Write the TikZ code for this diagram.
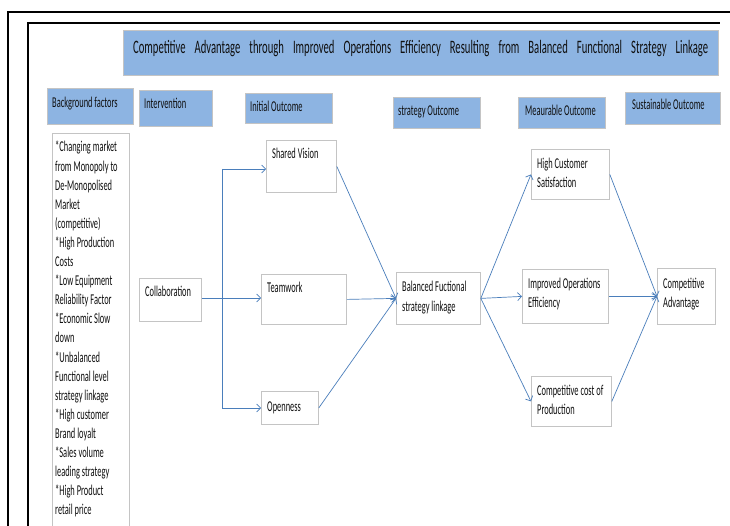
\documentclass[tikz,border=0pt]{standalone}
\usepackage{fontspec}
\setmainfont{Carlito}[FakeStretch=0.56]
\usetikzlibrary{arrows.meta}
\definecolor{hdr}{HTML}{8DB4E2}
\definecolor{bgray}{HTML}{C4C4C4}
\definecolor{arrblue}{HTML}{4A7EBB}
\definecolor{ink}{HTML}{101010}
\newcommand\mlines[2]{\parbox[t]{160pt}{\fontsize{15}{#1}\selectfont\raggedright #2}}
\begin{document}
\begin{tikzpicture}[x=1pt,y=-1pt,
  hbox/.style={draw=bgray, fill=hdr, line width=0.8pt, inner sep=0, anchor=north west},
  wbox/.style={draw=bgray, fill=white, line width=0.8pt, inner sep=0, anchor=north west},
  txt/.style={anchor=base west, inner sep=0, text=ink, font=\fontsize{15}{19}\selectfont},
  conn/.style={draw=arrblue, line width=0.7pt},
  arr/.style={conn, -{Straight Barb[length=4pt,width=8pt]}},
  frameline/.style={line width=1.2pt, draw=black}]
\useasboundingbox[fill=white] (0,0) rectangle (730,526);

% frames
\draw[frameline] (8,527) -- (8,12) -- (730,12);
\draw[frameline] (28,527) -- (28,23) -- (720,23);

% title
\node[hbox, minimum width=595pt, minimum height=45pt] (title) at (123,30) {};
\node[txt, font=\fontsize{19}{21}\selectfont] (titletxt) at (133,54)
  {\makebox[575pt][s]{Competitive Advantage through Improved Operations Efficiency Resulting from Balanced Functional Strategy Linkage}};

% header boxes
\node[hbox, minimum width=86pt, minimum height=36pt] (bgh) at (47,88) {};
\node[txt] (bght) at (52,108) {Background factors};
\node[hbox, minimum width=73pt, minimum height=36pt] (intv) at (139,90) {};
\node[txt] (intvt) at (144,109) {Intervention};
\node[hbox, minimum width=87pt, minimum height=30pt] (inith) at (245,93) {};
\node[txt] (initt) at (250,112) {Initial Outcome};
\node[hbox, minimum width=87pt, minimum height=31pt] (strath) at (393,97) {};
\node[txt] (stratt) at (398,116) {strategy Outcome};
\node[hbox, minimum width=87pt, minimum height=31pt] (meash) at (518,97) {};
\node[txt] (meast) at (525,116) {Meaurable Outcome};
\node[hbox, minimum width=95pt, minimum height=32pt] (susth) at (625,92) {};
\node[txt] (sustt) at (632,110) {Sustainable Outcome};

% background list
\node[wbox, minimum width=77pt, minimum height=400pt] (list) at (52,133) {};
\node[txt] (listt) at (55,152) {\mlines{19.1}{*Changing market\\{}from Monopoly to\\{}De-Monopolised\\{}Market\\{}(competitive)\\{}*High Production\\{}Costs\\{}*Low Equipment\\{}Reliability Factor\\{}*Economic Slow\\{}down\\{}*Unbalanced\\{}Functional level\\{}strategy linkage\\{}*High customer\\{}Brand loyalt\\{}*Sales volume\\{}leading strategy\\{}*High Product\\{}retail price}};

% white boxes
\node[wbox, minimum width=62pt, minimum height=43pt] (collab) at (139,278) {};
\node[txt] (collabt) at (145,297) {Collaboration};
\node[wbox, minimum width=70pt, minimum height=52pt] (sv) at (266,140) {};
\node[txt] (svt) at (272,159) {Shared Vision};
\node[wbox, minimum width=85pt, minimum height=50pt] (tw) at (261,274) {};
\node[txt] (twt) at (267,293) {Teamwork};
\node[wbox, minimum width=57pt, minimum height=33pt] (op) at (261,391) {};
\node[txt] (opt) at (267,411) {Openness};
\node[wbox, minimum width=84pt, minimum height=52pt] (bal) at (396,272) {};
\node[txt] (balt) at (402,291) {\mlines{20}{Balanced Fuctional\\{}strategy linkage}};
\node[wbox, minimum width=78pt, minimum height=50pt] (hcs) at (531,149) {};
\node[txt] (hcst) at (537,169) {\mlines{18.5}{High Customer\\{}Satisfaction}};
\node[wbox, minimum width=86pt, minimum height=54pt] (ioe) at (522,269) {};
\node[txt] (ioet) at (528,289) {\mlines{19}{Improved Operations\\{}Efficiency}};
\node[wbox, minimum width=80pt, minimum height=50pt] (ccp) at (531,376) {};
\node[txt] (ccpt) at (537,395) {\mlines{19}{Competitive cost of\\{}Production}};
\node[wbox, minimum width=58pt, minimum height=56pt] (ca) at (657,268) {};
\node[txt] (cat) at (663,288) {\mlines{19}{Competitive\\{}Advantage}};

% connectors
\coordinate (jt) at (222,169);
\coordinate (jm) at (222,298);
\coordinate (jb) at (222,408);
\draw[conn] (collab.east |- jm) -- (jm);
\draw[conn] (jt) -- (jb);
\draw[arr] (jt) -- (jt -| sv.west);
\draw[arr] (jm) -- (jm -| tw.west);
\draw[arr] (jb) -- (jb -| op.west);

\draw[arr] (sv.east) -- (bal.west);
\draw[arr] (tw.east) -- (bal.west);
\draw[arr] (op.east) -- (bal.west);

\draw[arr] (bal.east) -- (hcs.west);
\draw[arr] (bal.east) -- (ioe.west);
\draw[arr] (bal.east) -- (ccp.west);

\draw[arr] (hcs.east) -- (ca.west);
\draw[arr] (ioe.east) -- (ca.west);
\draw[arr] (ccp.east) -- (ca.west);
\end{tikzpicture}
\end{document}
